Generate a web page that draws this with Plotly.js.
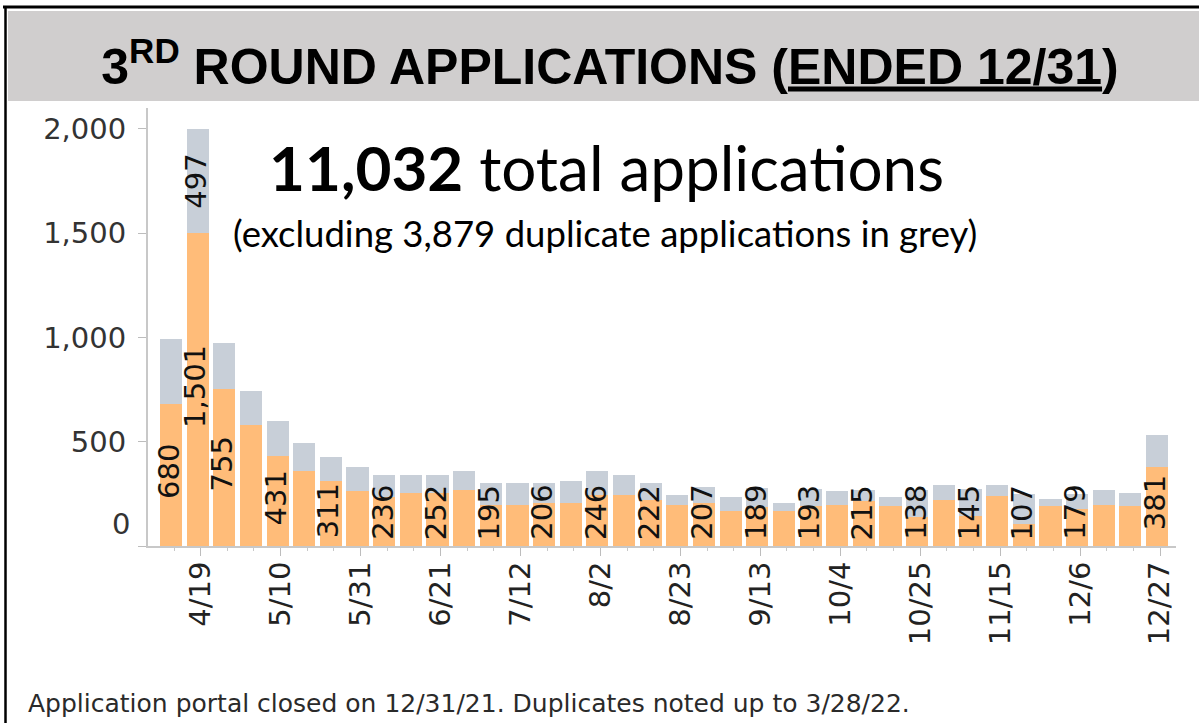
<!DOCTYPE html>
<html>
<head>
<meta charset="utf-8">
<script src="https://cdn.plot.ly/plotly-3.0.1.min.js"></script>
<style>html,body{margin:0;padding:0;background:#fff;}#chart{width:1199px;height:723px;} text{font-variant-ligatures:none;}</style>
</head>
<body>
<div id="chart"></div>
<script>
// ---- data ----
const weeks = ['2021-04-12','2021-04-19','2021-04-26','2021-05-03','2021-05-10','2021-05-17','2021-05-24','2021-05-31',
  '2021-06-07','2021-06-14','2021-06-21','2021-06-28','2021-07-05','2021-07-12','2021-07-19','2021-07-26',
  '2021-08-02','2021-08-09','2021-08-16','2021-08-23','2021-08-30','2021-09-06','2021-09-13','2021-09-20',
  '2021-09-27','2021-10-04','2021-10-11','2021-10-18','2021-10-25','2021-11-01','2021-11-08','2021-11-15',
  '2021-11-22','2021-11-29','2021-12-06','2021-12-13','2021-12-20','2021-12-27'];
const applications = [680,1501,755,580,431,361,311,264,236,254,252,267,195,195,206,206,246,245,222,195,
  207,170,189,168,193,198,215,190,138,219,145,238,107,190,179,198,190,381];
const duplicates = [312,497,218,163,168,133,116,115,106,88,90,94,109,109,98,107,115,97,82,51,
  78,65,91,40,82,66,55,45,132,75,130,53,143,37,71,69,66,153];
// which weeks carry a value label
const labeledApps = [0,1,2,4,6,8,10,12,14,16,18,20,22,24,26,28,30,32,34,37];
const labeledDups = [1];
const yTicks = [0,500,1000,1500,2000];
const titleText = '3<sup>RD</sup> ROUND APPLICATIONS (<span style="text-decoration:underline">ENDED 12/31</span>)';
const headline = '<b>11,032</b> total applications';
const subline = '(excluding 3,879 duplicate applications in grey)';
const footnote = 'Application portal closed on 12/31/21. Duplicates noted up to 3/28/22.';

// ---- layout geometry ----
const W = 1199, H = 723;
const M = {l: 148, r: 23, t: 108, b: 177};
const PW = W - M.l - M.r, PH = H - M.t - M.b;
const px = x => (x - M.l) / PW;          // pixel -> paper x
const py = y => (H - M.b - y) / PH;      // pixel -> paper y

const ORANGE = '#FFBC79', GREY = '#C8CFD8';
const DJ = 'DejaVu Sans, Verdana, sans-serif';
const labelFont = {family: DJ, size: 29, color: '#111'};
const fmt = v => v.toLocaleString('en-US');

const traces = [
  {type: 'bar', x: weeks, y: applications, name: 'Applications', marker: {color: ORANGE}, hoverinfo: 'x+y'},
  {type: 'bar', x: weeks, y: duplicates, name: 'Duplicates', marker: {color: GREY}, hoverinfo: 'x+y'}
];

const annotations = [];
labeledApps.forEach(i => {
  annotations.push({x: weeks[i], y: Math.max(applications[i] / 2 + 15, 160), xref: 'x', yref: 'y',
    text: fmt(applications[i]), textangle: -90, showarrow: false, xshift: -2, font: labelFont});
});
labeledDups.forEach(i => {
  annotations.push({x: weeks[i], y: applications[i] + duplicates[i] / 2, xref: 'x', yref: 'y',
    text: fmt(duplicates[i]), textangle: -90, showarrow: false, xshift: -2, font: labelFont});
});
// zero label sits a little above the baseline in the reference
annotations.push({x: 0, xref: 'paper', y: 0, yref: 'y', xanchor: 'right', yanchor: 'middle',
  xshift: -16, yshift: 22, text: '0', showarrow: false, font: {family: DJ, size: 29, color: '#333'}});
annotations.push({x: px(606), y: py(167), xref: 'paper', yref: 'paper', xanchor: 'center', yanchor: 'middle',
  text: headline, showarrow: false, font: {family: 'Lato, Open Sans, sans-serif', size: 62, color: '#000'}});
annotations.push({x: px(605), y: py(233), xref: 'paper', yref: 'paper', xanchor: 'center', yanchor: 'middle',
  text: subline, showarrow: false, font: {family: 'Lato, Open Sans, sans-serif', size: 36.5, color: '#000'}});
annotations.push({x: px(26), y: py(703), xref: 'paper', yref: 'paper', xanchor: 'left', yanchor: 'middle',
  text: footnote, showarrow: false, font: {family: DJ, size: 25, color: '#2a2a2a'}});

const shapes = [
  {type: 'rect', xref: 'paper', yref: 'paper', x0: px(8), x1: px(1199), y0: py(11), y1: py(101),
    fillcolor: '#D0CECE', line: {width: 0}, layer: 'below'},
  {type: 'line', xref: 'paper', yref: 'paper', x0: px(3), x1: px(1199), y0: py(7), y1: py(7),
    line: {color: '#000', width: 3}},
  {type: 'line', xref: 'paper', yref: 'paper', x0: px(5.5), x1: px(5.5), y0: py(6), y1: py(723),
    line: {color: '#000', width: 2.5}}
];

const DAY = 86400000;
const layout = {
  width: W, height: H, margin: M,
  paper_bgcolor: '#fff', plot_bgcolor: '#fff',
  barmode: 'stack', bargap: 0.17, showlegend: false,
  title: {text: titleText, xref: 'paper', x: px(610), xanchor: 'center', yref: 'container', y: 1 - 66 / H, yanchor: 'middle',
    font: {family: 'Liberation Sans, Arial, sans-serif', size: 50, color: '#000', weight: 700}},
  xaxis: {type: 'date', range: ['2021-04-05 23:00', '2021-12-31 23:30'],
    tick0: '2021-04-19 19:00', dtick: 21 * DAY, tickformat: '%-m/%-d', tickangle: -90,
    ticks: 'outside', ticklen: 8, tickcolor: '#bdbdbd', tickwidth: 1,
    minor: {ticks: 'outside', ticklen: 3, tickcolor: '#c8c8c8', dtick: 7 * DAY, tick0: '2021-04-19 19:00', showgrid: false},
    showline: true, linecolor: '#c8c8c8', linewidth: 2, showgrid: false, zeroline: false,
    tickfont: {family: DJ, size: 29, color: '#222'}, ticklabelstandoff: -6, fixedrange: true},
  yaxis: {range: [0, 2100], tickvals: yTicks, ticktext: yTicks.map(v => v === 0 ? '' : fmt(v)),
    ticks: 'outside', ticklen: 8, tickcolor: '#bdbdbd', tickwidth: 1,
    showline: true, linecolor: '#c8c8c8', linewidth: 2, showgrid: false, zeroline: false,
    tickfont: {family: DJ, size: 29, color: '#333'}, ticklabelstandoff: 6, fixedrange: true},
  annotations: annotations, shapes: shapes
};

Plotly.newPlot('chart', traces, layout, {displayModeBar: false, staticPlot: true});
</script>
</body>
</html>
